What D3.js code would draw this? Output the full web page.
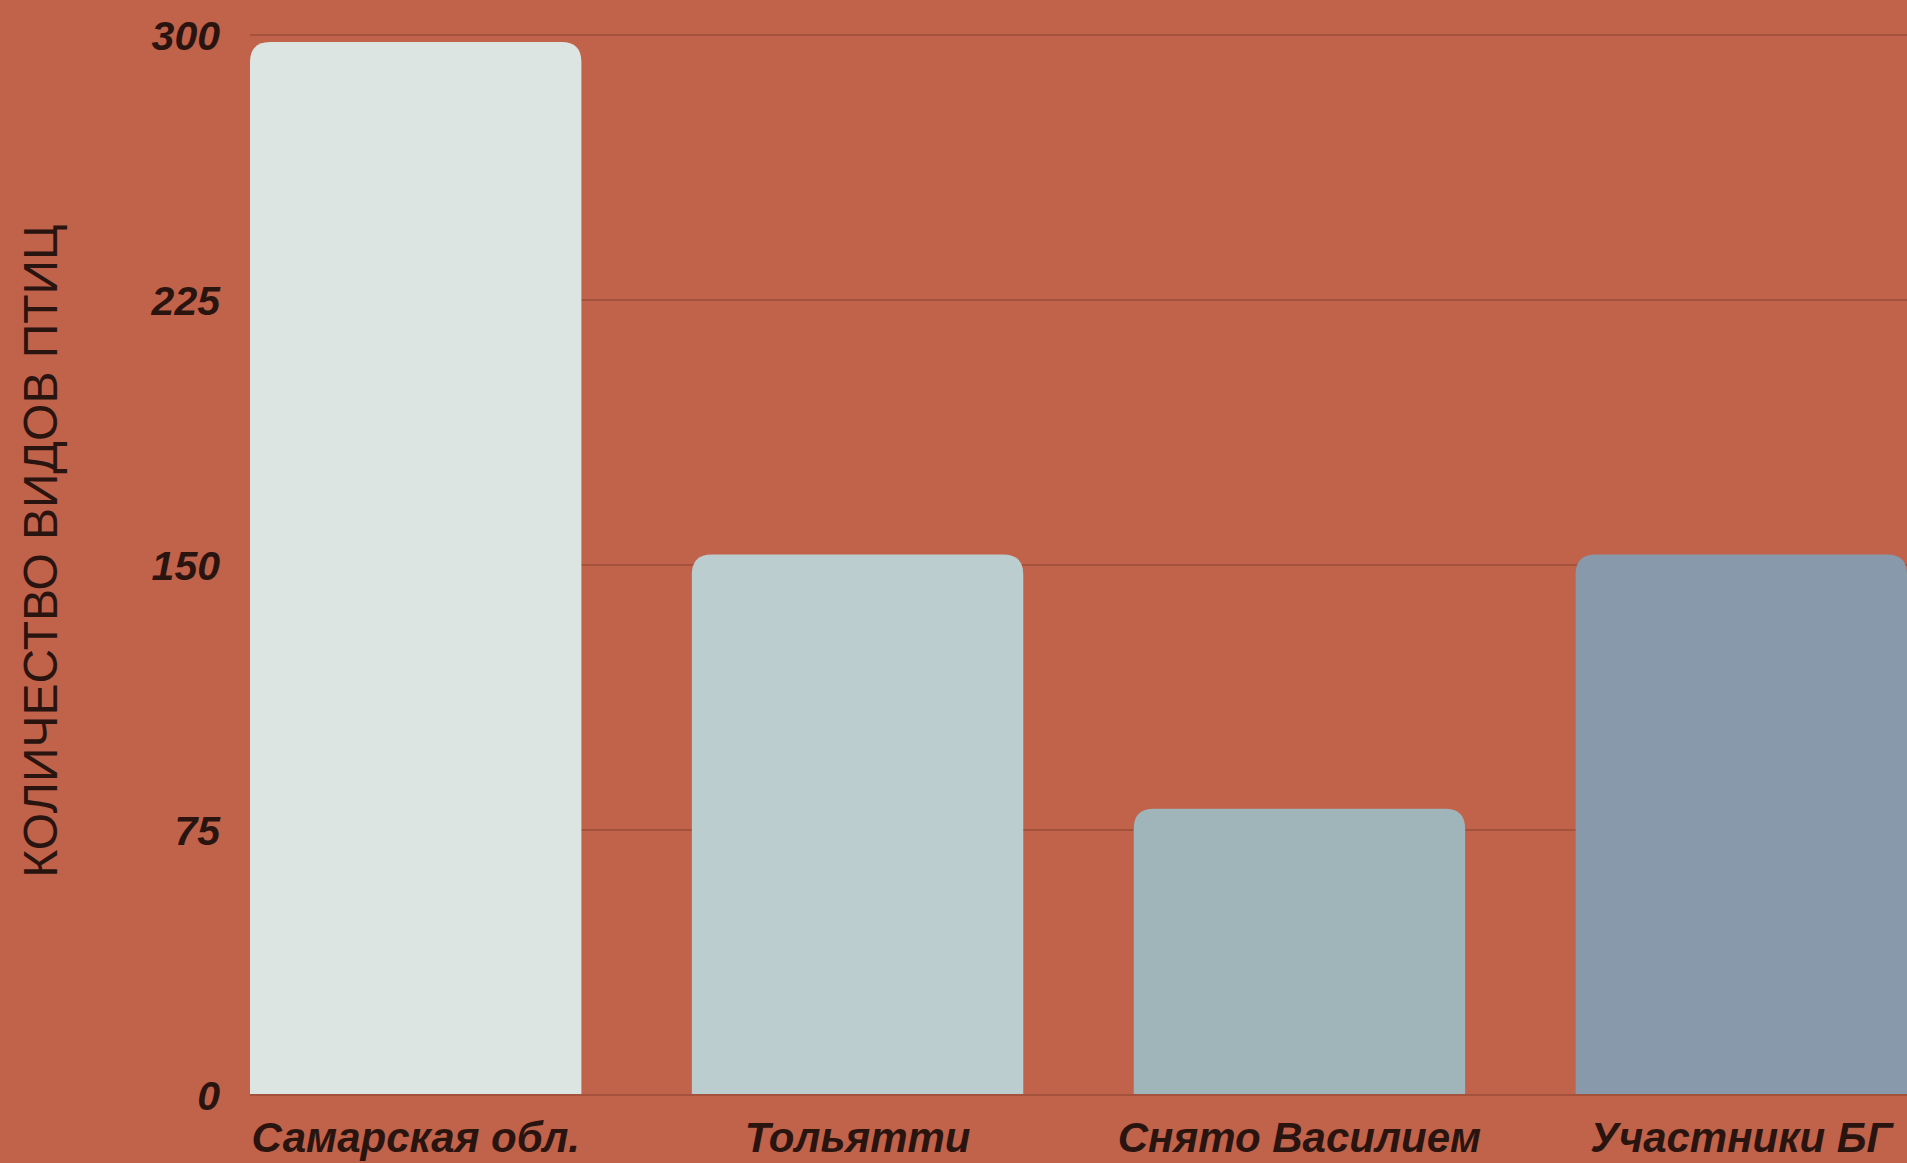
<!DOCTYPE html>
<html>
<head>
<meta charset="utf-8">
<script src="https://cdn.jsdelivr.net/npm/d3@7"></script>
<style>
  html, body { margin: 0; padding: 0; background: #c1624a; overflow: hidden; }
  svg { display: block; }
  text { font-family: "Liberation Sans", Arial, sans-serif; fill: #2a1410; }
</style>
</head>
<body>
<svg id="chart" width="1907" height="1163"></svg>
<script>
var categories = ['Самарская обл.', 'Тольятти', 'Снято Василием', 'Участники БГ'];
var values = [298, 153, 81, 153];
var barColors = ['#dce5e2', '#bccdd0', '#9fb5ba', '#8799aa'];
var tickValues = [0, 75, 150, 225, 300];
var yTitle = 'КОЛИЧЕСТВО ВИДОВ ПТИЦ';

var width = 1907, height = 1163;
var margin = { left: 250, right: 0, top: 35, bottom: 68 };

var svg = d3.select('#chart');

var x = d3.scaleBand()
  .domain(categories)
  .range([margin.left, width - margin.right])
  .paddingInner(0.25)
  .paddingOuter(0);

var y = d3.scaleLinear()
  .domain([0, 300])
  .range([height - margin.bottom, margin.top]);

// gridlines
svg.append('g').attr('class', 'grid')
  .selectAll('line')
  .data(tickValues)
  .enter().append('line')
  .attr('x1', margin.left)
  .attr('x2', width)
  .attr('y1', function(d) { return y(d); })
  .attr('y2', function(d) { return y(d); })
  .attr('stroke', '#a5523d')
  .attr('stroke-width', 2);

// bars, rounded top only
var r = 20;
svg.append('g').attr('class', 'bars')
  .selectAll('path')
  .data(categories)
  .enter().append('path')
  .attr('fill', function(d, i) { return barColors[i]; })
  .attr('d', function(d, i) {
    var x0 = x(d), w = x.bandwidth();
    var y0 = y(values[i]), y1 = y(0) - 1;
    return 'M' + x0 + ',' + y1 +
      'V' + (y0 + r) +
      'Q' + x0 + ',' + y0 + ' ' + (x0 + r) + ',' + y0 +
      'H' + (x0 + w - r) +
      'Q' + (x0 + w) + ',' + y0 + ' ' + (x0 + w) + ',' + (y0 + r) +
      'V' + y1 + 'Z';
  });

// y axis labels
var yAxis = d3.axisLeft(y).tickValues(tickValues).tickSize(0).tickPadding(0);
var yg = svg.append('g')
  .attr('transform', 'translate(220,0)')
  .call(yAxis);
yg.select('.domain').remove();
yg.selectAll('text')
  .attr('dy', '0.35em')
  .style('font-size', '41px')
  .style('font-weight', 'bold')
  .style('font-style', 'italic')
  .style('fill', '#2a1410');

// x axis labels
var xAxis = d3.axisBottom(x).tickSize(0).tickPadding(0);
var xg = svg.append('g')
  .attr('transform', 'translate(0,1152)')
  .call(xAxis);
xg.select('.domain').remove();
xg.selectAll('text')
  .attr('dy', 0)
  .attr('y', 0)
  .style('font-size', '42px')
  .style('font-weight', 'bold')
  .style('font-style', 'italic')
  .style('fill', '#2a1410');

// y title
svg.append('text')
  .attr('transform', 'translate(57,' + 551 + ') rotate(-90)')
  .attr('text-anchor', 'middle')
  .style('font-size', '48px')
  .text(yTitle);
</script>
</body>
</html>
